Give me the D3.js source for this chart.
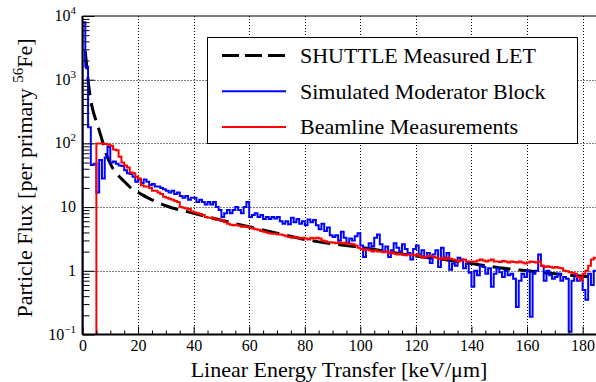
<!DOCTYPE html>
<html>
<head>
<meta charset="utf-8">
<script src="https://cdn.jsdelivr.net/npm/d3@7"></script>
<style>
  body { margin: 0; background: #fff; }
  svg { display: block; }
</style>
</head>
<body>
<svg id="chart" width="596" height="382"></svg>
<script>
// x ticks (keV/um) and y decades
const xMajor = [0, 20, 40, 60, 80, 100, 120, 140, 160, 180];
const yDecades = [0.1, 1, 10, 100, 1000, 10000];
const legendLabels = ['SHUTTLE Measured LET', 'Simulated Moderator Block', 'Beamline Measurements'];

// SHUTTLE measured LET curve: [LET, flux]
const shuttleLet = [1, 2, 3, 4, 5, 6, 7, 8, 9, 10, 11, 12, 14, 16, 18, 20, 25, 30, 40, 50, 60, 70, 80, 90, 100, 110, 120, 130, 140, 150, 160, 170, 180, 185];
const shuttleFlux = [2800, 1000, 470, 300, 220, 160, 115, 80, 60, 48, 40, 35, 28, 23, 19, 17, 13, 10.5, 8, 6.2, 4.9, 3.9, 3.1, 2.65, 2.35, 2.0, 1.7, 1.5, 1.3, 1.12, 1.0, 0.9, 0.82, 0.78];

// simulated moderator block, 1 keV/um bins starting at 0
const simFlux = [
  8000, 1600, 180, 46, 48, 17, 55, 28, 60, 88,
  50, 52, 48, 45, 44, 38, 34, 33, 30, 25,
  27, 24, 27, 25, 22, 23, 21, 21, 20, 19,
  18, 17, 18, 16, 17, 15, 14, 15, 13, 14,
  14, 12, 13, 12, 11, 12, 11, 12, 10, 9,
  7, 8, 9, 8, 9, 10, 9, 8, 10, 12,
  7, 7.5, 8, 7, 7.5, 6.5, 7, 6.5, 7, 6.6,
  7, 6, 5.5, 6, 5.4, 6.8, 5.8, 6.5, 5.5, 6,
  5.2, 6.4, 5.8, 6.3, 5.2, 4.5, 5.5, 4.2, 4.8, 3.6,
  3.4, 3.6, 3, 4.1, 3.3, 2.7, 3.2, 3, 3.5, 3.9,
  2.5, 1.65, 2.2, 2.7, 2.4, 3.3, 3.7, 2.6, 2, 2.4,
  1.65, 2.1, 2.7, 2.3, 2.0, 2.6, 2.2, 1.9, 1.5, 2.2,
  2.5, 1.8, 2.1, 1.6, 1.9, 1.33, 1.8, 2.1, 1.15, 2.3,
  1.6, 1.9, 1.04, 1.3, 1.2, 1.6, 1.5, 1.1, 1.3, 0.93,
  0.56, 1.0, 0.85, 1.2, 1.15, 0.9, 1.1, 0.56, 0.9, 1.1,
  0.95, 0.8, 1.0, 0.85, 0.9, 0.75, 0.27, 0.7, 0.9, 0.8,
  1.0, 0.19, 0.9, 1.0, 1.8, 1.2, 0.7, 1.0, 0.85, 0.75,
  0.8, 0.9, 0.7, 0.8, 0.75, 0.11, 0.7, 0.85, 0.7, 0.75,
  0.5, 0.35, 0.9, 0.6, 1.0
];

// beamline measurements, 1 keV/um bins starting at 5
const beamStart = 5;
const beamFlux = [
  100, 100, 100, 98, 95,
  92, 80, 78, 62, 50, 45, 42, 35, 34, 30,
  28, 22, 21, 21, 20, 18, 18, 17, 16, 14.5,
  14, 13.5, 13, 12.5, 12, 10, 9.8, 9.5, 9.3, 8.5,
  8.2, 8, 7.8, 7.5, 7, 6.8, 6.8, 6.6, 6.3, 6.3,
  6.2, 5.8, 5.5, 5.3, 5.2, 5.3, 5.1, 4.9, 5.0, 4.9,
  4.7, 4.6, 4.5, 4.4, 4.2, 4.1, 4.0, 3.9, 3.8, 3.8,
  3.7, 3.7, 3.6, 3.5, 3.4, 3.3, 3.4, 3.3, 3.2, 3.3,
  3.2, 3.1, 3.3, 3.2, 3.3, 3.2, 3.0, 2.9, 2.8, 2.8,
  2.75, 2.7, 2.8, 2.7, 2.75, 2.6, 2.65, 2.6, 2.5, 2.3,
  2.2, 2.1, 2.15, 2.1, 2.0, 2.1, 2.0, 2.0, 1.95, 2.0,
  1.9, 1.95, 1.85, 1.8, 1.85, 1.8, 1.75, 1.8, 1.8, 1.75,
  1.8, 1.7, 1.6, 1.65, 1.7, 1.7, 1.65, 1.6, 1.55, 1.6,
  1.5, 1.6, 1.55, 1.5, 1.45, 1.4, 1.45, 1.5, 1.4, 1.4,
  1.4, 1.4, 1.45, 1.5, 1.45, 1.4, 1.45, 1.5, 1.4, 1.4,
  1.38, 1.42, 1.4, 1.35, 1.4, 1.38, 1.35, 1.4, 1.35, 1.3,
  1.35, 1.4, 1.38, 1.35, 1.4, 1.2, 1.15, 1.18, 1.15, 1.12,
  1.15, 1.12, 1.1, 1.0, 0.98, 0.95, 0.93, 0.9, 0.8, 0.72,
  0.9, 1.0, 1.2, 1.5, 1.6
];

const FONT = '"Liberation Serif", serif';
const svg = d3.select('#chart').attr('font-family', FONT);
const W = 596, H = 382;
const m = {left: 82.5, right: 596.5, top: 16, bottom: 334.5};

const x = d3.scaleLinear().domain([0, 185]).range([m.left, m.right]);
const y = d3.scaleLog().domain([0.1, 10000]).range([m.bottom, m.top]);

svg.append('rect').attr('width', W).attr('height', H).attr('fill', '#fff');

svg.append('clipPath').attr('id', 'plotclip')
  .append('rect').attr('x', m.left).attr('y', m.top).attr('width', m.right - m.left).attr('height', m.bottom - m.top);

// grid
const grid = svg.append('g').attr('stroke', '#000').attr('stroke-width', 1).attr('stroke-dasharray', '1,2');
grid.selectAll('.gx').data(xMajor.slice(1)).enter().append('line')
  .attr('x1', d => Math.round(x(d)) + 0.5).attr('x2', d => Math.round(x(d)) + 0.5)
  .attr('y1', m.top).attr('y2', m.bottom);
grid.selectAll('.gy').data([1, 10, 100, 1000]).enter().append('line')
  .attr('x1', m.left).attr('x2', m.right)
  .attr('y1', d => Math.round(y(d)) + 0.5).attr('y2', d => Math.round(y(d)) + 0.5);

// histogram step path from bin values
function stepPoints(start, vals) {
  const pts = [[start, 0.01]];
  vals.forEach((v, i) => {
    const vv = v > 0 ? v : 0.01;
    pts.push([start + i, vv]);
    pts.push([start + i + 1, vv]);
  });
  return pts;
}

const line = d3.line().x(d => x(d[0])).y(d => y(d[1]));
const plot = svg.append('g').attr('clip-path', 'url(#plotclip)');

// SHUTTLE curve
plot.append('path')
  .datum(shuttleLet.map((d, i) => [d, shuttleFlux[i]]))
  .attr('fill', 'none').attr('stroke', '#000').attr('stroke-width', 3)
  .attr('stroke-dasharray', '18,8')
  .attr('d', line.curve(d3.curveMonotoneX));

line.curve(d3.curveLinear);

plot.append('path')
  .datum(stepPoints(0, simFlux))
  .attr('fill', 'none').attr('stroke', '#0000ff').attr('stroke-width', 2)
  .attr('d', line);

plot.append('path')
  .datum(stepPoints(beamStart, beamFlux))
  .attr('fill', 'none').attr('stroke', '#ff0000').attr('stroke-width', 2)
  .attr('d', line);

// axes (ticks inside, ROOT style)
const xMinor = d3.range(0, 186, 5).filter(d => d % 20 !== 0);
const gx = svg.append('g').attr('transform', `translate(0,${m.bottom})`);
gx.call(d3.axisBottom(x).tickValues(xMinor).tickSize(-4).tickFormat(''))
  .call(g => g.select('.domain').remove());
gx.append('g').call(d3.axisBottom(x).tickValues(xMajor).tickSize(-8).tickPadding(5).tickFormat(d3.format('d')))
  .call(g => g.select('.domain').remove());
gx.selectAll('g').attr('font-family', FONT);
gx.selectAll('line').attr('stroke', '#000').attr('stroke-width', 1);
gx.selectAll('text').attr('font-family', FONT).attr('font-size', 16).attr('fill', '#000');

const yMinor = [];
[0.1, 1, 10, 100, 1000].forEach(dec => { for (let k = 2; k <= 9; k++) yMinor.push(dec * k); });
const gy = svg.append('g').attr('transform', `translate(${m.left},0)`);
gy.call(d3.axisLeft(y).tickValues(yMinor).tickSize(-7).tickFormat(''))
  .call(g => g.select('.domain').remove());
gy.append('g').call(d3.axisLeft(y).tickValues(yDecades).tickSize(-12).tickPadding(6).tickFormat(''))
  .call(g => g.select('.domain').remove());
gy.selectAll('line').attr('stroke', '#000').attr('stroke-width', 1);

// y tick labels with superscripts
const supExp = {0.1: '\u22121', 1000: '3', 100: '2', 10000: '4'};
yDecades.forEach(d => {
  const t = svg.append('text')
    .attr('x', 76).attr('y', y(d) + 5)
    .attr('text-anchor', 'end').attr('font-family', FONT).attr('font-size', 16).attr('fill', '#000');
  if (d === 1) { t.text('1'); return; }
  if (d === 10) { t.text('10'); return; }
  t.append('tspan').text('10');
  t.append('tspan').attr('dy', -7).attr('font-size', 11).text(supExp[d]);
});

// frame
svg.append('line').attr('x1', m.left).attr('x2', m.left).attr('y1', m.top).attr('y2', m.bottom)
  .attr('stroke', '#000').attr('stroke-width', 2);
svg.append('line').attr('x1', m.left).attr('x2', m.right).attr('y1', m.bottom).attr('y2', m.bottom)
  .attr('stroke', '#000').attr('stroke-width', 2);
svg.append('line').attr('x1', m.left).attr('x2', m.right).attr('y1', m.top).attr('y2', m.top)
  .attr('stroke', '#000').attr('stroke-width', 1);

// axis titles
svg.append('text').attr('x', 339).attr('y', 377).attr('text-anchor', 'middle')
  .attr('font-family', FONT).attr('font-size', 22).attr('fill', '#000').text('Linear Energy Transfer [keV/\u03bcm]');

const yt = svg.append('text').attr('transform', 'translate(32,178) rotate(-90)')
  .attr('text-anchor', 'middle').attr('font-family', FONT).attr('font-size', 22).attr('fill', '#000');
yt.append('tspan').text('Particle Flux [per primary ');
yt.append('tspan').attr('dy', -9).attr('font-size', 15).text('56');
yt.append('tspan').attr('dy', 9).text('Fe]');

// legend
const lg = svg.append('g');
lg.append('rect').attr('x', 207.5).attr('y', 37.5).attr('width', 370).attr('height', 106)
  .attr('fill', '#fff').attr('stroke', '#000').attr('stroke-width', 1);
const legendStyles = [
  {color: '#000', width: 3, dash: '17,6'},
  {color: '#0000ff', width: 2, dash: null},
  {color: '#ff0000', width: 2, dash: null}
];
legendLabels.forEach((lab, i) => {
  const cy = 55.5 + i * 35.7;
  lg.append('line').attr('x1', 222).attr('x2', 286).attr('y1', cy).attr('y2', cy)
    .attr('stroke', legendStyles[i].color).attr('stroke-width', legendStyles[i].width)
    .attr('stroke-dasharray', legendStyles[i].dash);
  lg.append('text').attr('x', 300).attr('y', cy + 7.5).attr('font-family', FONT)
    .attr('font-size', 22).attr('fill', '#000').text(lab);
});
</script>
</body>
</html>
